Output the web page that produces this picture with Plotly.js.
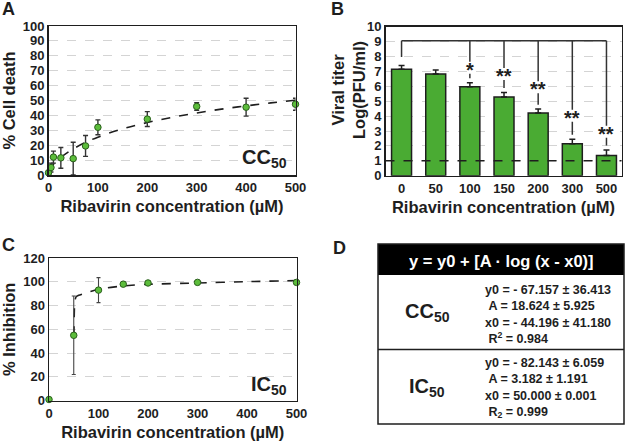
<!DOCTYPE html>
<html>
<head>
<meta charset="utf-8">
<script src="https://cdn.plot.ly/plotly-3.0.1.min.js"></script>
<style>html,body{margin:0;padding:0;background:#fff;}#chart{width:625px;height:441px;}</style>
</head>
<body>
<div id="chart"></div>
<script>
// ---------- Panel A: cytotoxicity (CC50) ----------
const concA   = [0, 5, 10, 25, 50, 75, 100, 200, 300, 400, 500];
const deathA  = [1.5, 5, 12, 11.5, 11, 19.5, 32, 37.5, 46, 45.5, 47.5];
const errA    = [1, 3, 4, 7, 11, 7, 5, 5, 2.5, 6, 4];
const fitAx   = [0, 10, 25, 50, 75, 100, 150, 200, 250, 300, 350, 400, 450, 500];
const fitAy   = [3.4, 7.2, 11.8, 17.5, 21.9, 25.4, 31.0, 35.2, 38.7, 41.6, 44.2, 46.4, 48.4, 50.2];

// ---------- Panel B: viral titer ----------
const catB    = ['0', '50', '100', '150', '200', '300', '500'];
const titerB  = [7.15, 6.82, 5.97, 5.28, 4.21, 2.15, 1.36];
const errB    = [0.24, 0.27, 0.27, 0.31, 0.26, 0.29, 0.36];
const starsB  = ['', '', '*', '**', '**', '**', '**'];
const starYB  = [null, null, 7.3, 6.87, 5.99, 4.07, 3.0];
const bracketLevel = 9.06;
const detectionLimit = 1;

// ---------- Panel C: inhibition (IC50) ----------
const concC   = [0, 50, 100, 150, 200, 300, 500];
const inhibC  = [1, 55, 93, 98, 99, 99.5, 99.5];
const errC    = [0, 33, 10.5, 2, 0.8, 0.5, 0];
const fitCx   = [50.3, 51, 52, 54.7, 60, 69.5, 100, 150, 200, 300, 400, 500];
const fitCy   = [55, 72, 83, 87.3, 88.6, 90, 93.7, 96.5, 97.9, 99, 100.1, 101];

// ---------- Panel D: fit table ----------
const tableHeader = 'y = y0 + [A · log (x - x0)]';
const tableLabels = ['CC<sub>50</sub>', 'IC<sub>50</sub>'];
const tableLines  = [
  ['y0 = - 67.157 ± 36.413', '\u00a0A = 18.624 ± 5.925', 'x0 = - 44.196 ± 41.180', '\u00a0R<sup>2</sup> = 0.984'],
  ['y0 = - 82.143 ± 6.059', '\u00a0A = 3.182 ± 1.191', 'x0 = 50.000 ± 0.001', '\u00a0R<sub>2</sub> = 0.999']
];

const W = 625, H = 441;
const px = x => x / W;
const py = y => 1 - y / H;
const FONT = 'Liberation Sans, Arial, Helvetica, sans-serif';
const ink = '#1e1e1e';
const green = '#5cbd3b';
const barGreen = '#4aab33';

const traces = [];
traces.push({x: fitAx, y: fitAy, xaxis: 'x', yaxis: 'y', mode: 'lines', type: 'scatter',
  line: {color: ink, dash: 'dash', width: 1.6, shape: 'spline'}, hoverinfo: 'skip'});
traces.push({x: concA, y: deathA, xaxis: 'x', yaxis: 'y', mode: 'markers', type: 'scatter', cliponaxis: false,
  marker: {color: green, size: 6.5, line: {color: '#2a5f1c', width: 1}},
  error_y: {type: 'data', array: errA, color: '#333', thickness: 1.4, width: 2.5}});

traces.push({x: catB, y: titerB, xaxis: 'x2', yaxis: 'y2', type: 'bar',
  marker: {color: barGreen, line: {color: ink, width: 1.5}},
  error_y: {type: 'data', symmetric: false, array: errB, arrayminus: errB.map(() => 0), color: ink, thickness: 1.5, width: 3}});
const bx = [], by = [];
bx.push(catB[0], catB[catB.length - 1], null); by.push(bracketLevel, bracketLevel, null);
bx.push(catB[0], catB[0], null); by.push(bracketLevel, titerB[0] + errB[0] + 0.57, null);
catB.forEach((c, i) => {
  if (starYB[i] === null) return;
  bx.push(c, c, null); by.push(bracketLevel, starYB[i] + 0.35, null);
  bx.push(c, c, null); by.push(starYB[i] - 0.45, titerB[i] + errB[i] + 0.3, null);
});
traces.push({x: bx, y: by, xaxis: 'x2', yaxis: 'y2', mode: 'lines', type: 'scatter',
  line: {color: '#333', width: 1.5}, hoverinfo: 'skip', cliponaxis: false});

traces.push({x: fitCx, y: fitCy, xaxis: 'x3', yaxis: 'y3', mode: 'lines', type: 'scatter',
  line: {color: ink, dash: 'dash', width: 1.6, shape: 'spline', smoothing: 0.6}, hoverinfo: 'skip'});
traces.push({x: concC, y: inhibC, xaxis: 'x3', yaxis: 'y3', mode: 'markers', type: 'scatter', cliponaxis: false,
  marker: {color: green, size: 6.5, line: {color: '#2a5f1c', width: 1}},
  error_y: {type: 'data', array: errC, color: '#444', thickness: 1.1, width: 2}});

const tickFont = {family: FONT, size: 13, color: ink, weight: 700};
const titleFont = {family: FONT, size: 16.5, color: ink, weight: 700};
const axisBase = {showline: true, mirror: true, linecolor: ink, linewidth: 1.5, zeroline: false,
  ticks: '', tickfont: tickFont, automargin: false, fixedrange: true};

const layout = {
  width: W, height: H, margin: {l: 0, r: 0, t: 0, b: 0},
  paper_bgcolor: '#fff', plot_bgcolor: '#fff', showlegend: false,
  font: {family: FONT, color: ink},
  bargap: 0.415,
  xaxis: Object.assign({}, axisBase, {domain: [px(48.5), px(295.5)], anchor: 'y', range: [0, 500],
    tickvals: [0, 100, 200, 300, 400, 500], showgrid: false,
    title: {text: 'Ribavirin concentration (µM)', font: titleFont, standoff: 6}}),
  yaxis: Object.assign({}, axisBase, {domain: [py(175), py(26)], anchor: 'x', range: [0, 100], dtick: 10,
    showgrid: true, gridcolor: '#d4d4d4', griddash: 'dash', gridwidth: 1,
    title: {text: '% Cell death', font: titleFont, standoff: 5}}),
  xaxis2: Object.assign({}, axisBase, {domain: [px(385.5), px(621.5)], anchor: 'y2', type: 'category',
    range: [-0.47, 6.44], showgrid: false,
    title: {text: 'Ribavirin concentration (µM)', font: titleFont, standoff: 6}}),
  yaxis2: Object.assign({}, axisBase, {domain: [py(175.7), py(26.7)], anchor: 'x2', range: [0, 10], dtick: 1,
    showgrid: true, gridcolor: '#d4d4d4', griddash: 'dash', gridwidth: 1}),
  xaxis3: Object.assign({}, axisBase, {domain: [px(49), px(296.5)], anchor: 'y3', range: [0, 500],
    tickvals: [0, 100, 200, 300, 400, 500], showgrid: false,
    title: {text: 'Ribavirin concentration (µM)', font: titleFont, standoff: 6}}),
  yaxis3: Object.assign({}, axisBase, {domain: [py(400.7), py(258)], anchor: 'x3', range: [0, 120], dtick: 20,
    showgrid: true, gridcolor: '#d4d4d4', griddash: 'dash', gridwidth: 1,
    title: {text: '% Inhibition', font: titleFont, standoff: 3}}),
  shapes: [
    {type: 'line', xref: 'x2 domain', yref: 'y2', x0: 0, x1: 1, y0: detectionLimit, y1: detectionLimit,
      line: {color: ink, width: 1.5, dash: 'dash'}},
    {type: 'rect', xref: 'paper', yref: 'paper', x0: px(378), x1: px(624), y0: py(275), y1: py(244),
      fillcolor: '#000', line: {width: 0}},
    {type: 'rect', xref: 'paper', yref: 'paper', x0: px(378), x1: px(624), y0: py(424), y1: py(244),
      line: {color: ink, width: 1.5}},
    {type: 'line', xref: 'paper', yref: 'paper', x0: px(378), x1: px(624), y0: py(349.5), y1: py(349.5),
      line: {color: ink, width: 1.5}}
  ],
  annotations: []
};

const ann = layout.annotations;
const lab = (t, x, y) => ann.push({text: t, xref: 'paper', yref: 'paper', x: px(x), y: py(y),
  xanchor: 'center', yanchor: 'middle', showarrow: false, font: {family: FONT, size: 18, color: ink, weight: 700}});
lab('A', 8, 9); lab('B', 338, 9); lab('C', 8, 245); lab('D', 339, 248);

ann.push({text: 'Viral titer<br>Log(PFU/ml)', xref: 'paper', yref: 'paper', x: px(348), y: py(90),
  xanchor: 'center', yanchor: 'middle', textangle: -90, showarrow: false,
  font: {family: FONT, size: 16.5, color: ink, weight: 700}});

ann.push({text: 'CC<sub>50</sub>', xref: 'paper', yref: 'paper', x: px(289), y: py(158), xanchor: 'right', yanchor: 'middle',
  showarrow: false, font: {family: FONT, size: 20, color: ink, weight: 700}});
ann.push({text: 'IC<sub>50</sub>', xref: 'paper', yref: 'paper', x: px(289), y: py(385), xanchor: 'right', yanchor: 'middle',
  showarrow: false, font: {family: FONT, size: 20, color: ink, weight: 700}});

catB.forEach((c, i) => {
  if (!starsB[i]) return;
  ann.push({text: starsB[i], xref: 'x2', yref: 'y2', x: i, y: starYB[i], yshift: -3, showarrow: false,
    xanchor: 'center', yanchor: 'middle', font: {family: FONT, size: 20, color: ink, weight: 700}});
});

ann.push({text: tableHeader, xref: 'paper', yref: 'paper', x: px(501), y: py(261), xanchor: 'center', yanchor: 'middle',
  showarrow: false, font: {family: FONT, size: 16.5, color: '#fff', weight: 700}});
const rowLabelY = [312, 387];
const rowTextY = [314, 387.5];
tableLabels.forEach((t, r) => {
  ann.push({text: t, xref: 'paper', yref: 'paper', x: px(427), y: py(rowLabelY[r]), xanchor: 'center', yanchor: 'middle',
    showarrow: false, font: {family: FONT, size: 20, color: ink, weight: 700}});
  ann.push({text: tableLines[r].join('<br>'), xref: 'paper', yref: 'paper', x: px(483), y: py(rowTextY[r]),
    xanchor: 'left', yanchor: 'middle', align: 'left', showarrow: false,
    font: {family: FONT, size: 12.5, color: ink, weight: 700}});
});

Plotly.newPlot('chart', traces, layout, {staticPlot: true, displayModeBar: false});
</script>
</body>
</html>
